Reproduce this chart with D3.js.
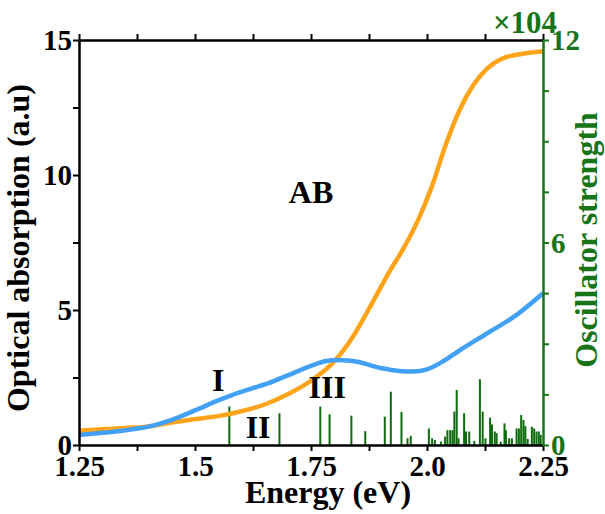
<!DOCTYPE html>
<html>
<head>
<meta charset="utf-8">
<script src="https://cdn.jsdelivr.net/npm/d3@7"></script>
<style>
  html, body { margin: 0; padding: 0; background: #fff; }
  svg { display: block; font-family: "Liberation Serif", "Times New Roman", serif; font-weight: bold; }
</style>
</head>
<body>
<svg id="chart" width="605" height="514"></svg>
<script>
// ---------------- data ----------------
const orangeE = [1.25, 1.30, 1.35, 1.40, 1.45, 1.50, 1.55, 1.60, 1.65, 1.70, 1.75, 1.80, 1.84, 1.88, 1.92, 1.95, 1.98, 2.01, 2.04, 2.07, 2.10, 2.13, 2.16, 2.20, 2.25];
const orangeV = [0.53, 0.58, 0.63, 0.69, 0.83, 0.96, 1.07, 1.25, 1.50, 1.88, 2.38, 3.09, 4.00, 5.20, 6.45, 7.30, 8.30, 9.55, 11.10, 12.40, 13.33, 13.95, 14.30, 14.47, 14.58];

const blueE = [1.25, 1.30, 1.35, 1.40, 1.45, 1.50, 1.55, 1.58, 1.62, 1.66, 1.70, 1.75, 1.78, 1.81, 1.85, 1.90, 1.94, 1.97, 2.00, 2.03, 2.07, 2.13, 2.19, 2.25];
const blueV = [0.37, 0.45, 0.55, 0.68, 0.93, 1.28, 1.65, 1.85, 2.08, 2.30, 2.58, 2.93, 3.10, 3.15, 3.08, 2.85, 2.74, 2.72, 2.80, 3.05, 3.50, 4.14, 4.78, 5.62];

// oscillator strengths (x10^4)
const stickE = [1.574, 1.682, 1.770, 1.790, 1.837, 1.867, 1.909, 1.922, 1.945, 1.958, 1.965,
                2.004, 2.011, 2.017, 2.030, 2.039, 2.044, 2.050, 2.055, 2.059, 2.064, 2.068,
                2.080, 2.084, 2.091, 2.102, 2.114, 2.120, 2.126, 2.136, 2.140, 2.146, 2.150,
                2.159, 2.167, 2.170, 2.177, 2.183, 2.193, 2.198, 2.203, 2.208, 2.212, 2.217,
                2.226, 2.231, 2.236, 2.241, 2.245];
const stickF = [1.14, 0.94, 1.14, 0.91, 0.87, 0.41, 0.84, 1.58, 0.98, 0.20, 0.27,
                0.49, 0.20, 0.15, 0.10, 0.25, 0.44, 0.44, 0.44, 0.99, 1.63, 0.20,
                0.94, 0.40, 0.40, 0.12, 1.95, 0.99, 0.20, 0.81, 0.61, 0.40, 0.35,
                0.10, 0.64, 0.44, 0.20, 0.20, 0.49, 0.49, 0.89, 0.74, 0.56, 0.18,
                0.54, 0.49, 0.40, 0.40, 0.30];

const xMinorTicks = [1.25, 1.375, 1.5, 1.625, 1.75, 1.875, 2.0, 2.125, 2.25];
const xTickValues = [1.25, 1.5, 1.75, 2.0, 2.25];
const xTickLabels = ["1.25", "1.5", "1.75", "2.0", "2.25"];
const yMinorTicks = [0, 2.5, 5, 7.5, 10, 12.5, 15];
const yTickValues = [0, 5, 10, 15];
const yTickLabels = ["0", "5", "10", "15"];
const y2MinorTicks = [0, 1.5, 3, 4.5, 6, 7.5, 9, 10.5, 12];
const y2TickValues = [0, 6, 12];
const y2TickLabels = ["0", "6", "12"];

const annotations = [
  { text: "AB", x: 1.75, y: 8.95 },
  { text: "I", x: 1.55, y: 2.0 },
  { text: "II", x: 1.636, y: 0.26 },
  { text: "III", x: 1.785, y: 1.74 }
];

// ---------------- layout ----------------
const L = 79, R = 543, T = 40, B = 445;
const svg = d3.select("#chart");
const x = d3.scaleLinear().domain([1.25, 2.25]).range([L, R]);
const y = d3.scaleLinear().domain([0, 15]).range([B, T]);
const y2 = d3.scaleLinear().domain([0, 12]).range([B, T]);

const green = "#177417";
const stickGreen = "#0e6b0e";
const orange = "#FFA31A";
const blue = "#42A0F5";

// sticks
svg.append("g").selectAll("line").data(stickE.map((e, i) => [e, stickF[i]]))
  .join("line")
  .attr("x1", d => x(d[0])).attr("x2", d => x(d[0]))
  .attr("y1", y2(0)).attr("y2", d => y2(d[1]))
  .attr("stroke", stickGreen).attr("stroke-width", 2);

// curves
const line = d3.line().x(d => x(d[0])).y(d => y(d[1])).curve(d3.curveMonotoneX);
svg.append("path").datum(orangeE.map((e, i) => [e, orangeV[i]]))
  .attr("d", line).attr("fill", "none").attr("stroke", orange).attr("stroke-width", 4.5);
svg.append("path").datum(blueE.map((e, i) => [e, blueV[i]]))
  .attr("d", line).attr("fill", "none").attr("stroke", blue).attr("stroke-width", 4.5);

// axes
const tickFont = 29;
function styleAxis(g, color) {
  g.select(".domain").attr("stroke", color).attr("stroke-width", 2.5);
  g.selectAll(".tick line").attr("stroke", color).attr("stroke-width", 2);
  g.selectAll(".tick text").attr("fill", color).attr("font-size", tickFont)
    .attr("font-family", "Liberation Serif, Times New Roman, serif").attr("font-weight", "bold");
}

// bottom minor ticks & labels
const xb = svg.append("g").attr("transform", `translate(0,${B})`)
  .call(d3.axisBottom(x).tickValues(xMinorTicks).tickSize(6).tickSizeOuter(0)
    .tickFormat(v => { const i = xTickValues.findIndex(t => Math.abs(t - v) < 1e-9); return i >= 0 ? xTickLabels[i] : ""; }));
styleAxis(xb, "#000");
xb.selectAll(".tick text").attr("dy", "0.85em").attr("y", 6);

// top
const xt = svg.append("g").attr("transform", `translate(0,${T})`)
  .call(d3.axisTop(x).tickValues(xMinorTicks).tickSize(6).tickSizeOuter(0).tickFormat(""));
styleAxis(xt, "#000");

// left
const yl = svg.append("g").attr("transform", `translate(${L},0)`)
  .call(d3.axisLeft(y).tickValues(yMinorTicks).tickSize(6).tickSizeOuter(0)
    .tickFormat(v => { const i = yTickValues.indexOf(v); return i >= 0 ? yTickLabels[i] : ""; }));
styleAxis(yl, "#000");
yl.selectAll(".tick text").attr("x", -7).attr("dy", "0.34em");

// right
const yr = svg.append("g").attr("transform", `translate(${R},0)`)
  .call(d3.axisRight(y2).tickValues(y2MinorTicks).tickSize(6).tickSizeOuter(0)
    .tickFormat(v => { const i = y2TickValues.indexOf(v); return i >= 0 ? y2TickLabels[i] : ""; }));
styleAxis(yr, green);
yr.selectAll(".tick text").attr("x", 8).attr("dy", "0.34em");

// axis titles
svg.append("text").attr("x", 328).attr("y", 503).attr("text-anchor", "middle")
  .attr("font-size", 32).attr("fill", "#000").text("Energy (eV)");
svg.append("text").attr("transform", "translate(29,248) rotate(-90)").attr("text-anchor", "middle")
  .attr("font-size", 32).attr("fill", "#000").text("Optical absorption (a.u)");
svg.append("text").attr("transform", "translate(597,240) rotate(-90)").attr("text-anchor", "middle")
  .attr("font-size", 32).attr("fill", green).text("Oscillator strength");
svg.append("text").attr("x", 525).attr("y", 33).attr("text-anchor", "middle")
  .attr("font-size", 31).attr("fill", green).text("×104");

// annotations
svg.append("g").selectAll("text").data(annotations).join("text")
  .attr("x", d => x(d.x)).attr("y", d => y(d.y)).attr("text-anchor", "middle")
  .attr("font-size", 32).attr("fill", "#000").text(d => d.text);
</script>
</body>
</html>
